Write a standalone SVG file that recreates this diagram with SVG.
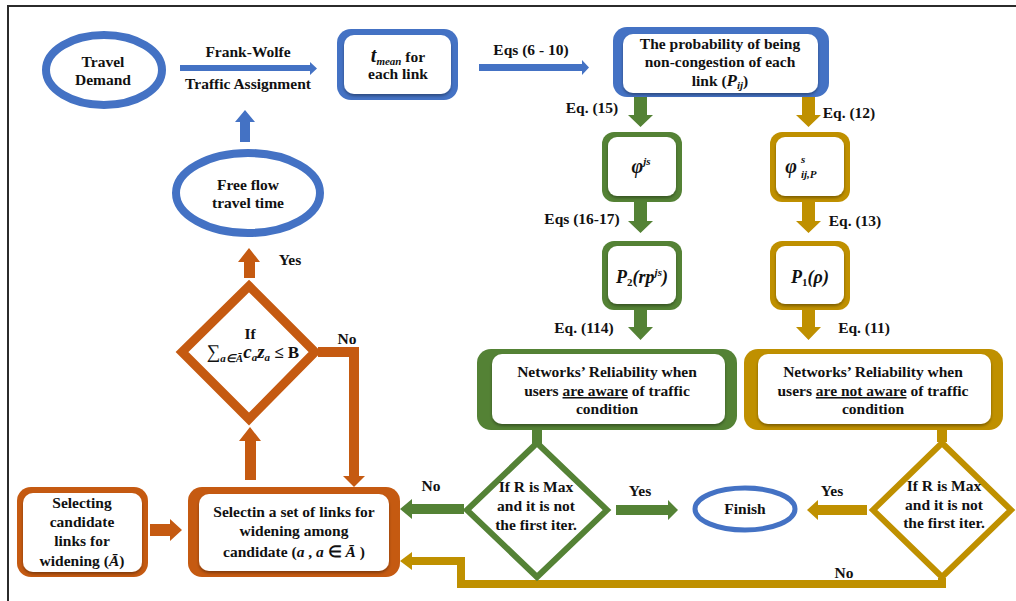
<svg xmlns="http://www.w3.org/2000/svg" width="1016" height="601" viewBox="0 0 1016 601" font-family="'Liberation Serif', 'Times New Roman', serif">
<style>
text{font-family:"Liberation Serif","Times New Roman",serif;font-weight:bold;font-size:15.5px;fill:#111;text-anchor:middle}
.m{font-style:italic;font-size:17px}
.s{font-size:11px}
.blue{fill:#4472C4}.green{fill:#548235}.gold{fill:#BF9000}.orange{fill:#C55A11}
.in{fill:#fff}
.ell{fill:#fff;stroke:#4472C4}
.dia{fill:#fff;stroke-linejoin:miter}
</style>
<defs>
<filter id="sh" x="-10%" y="-10%" width="120%" height="130%">
<feDropShadow dx="0" dy="2" stdDeviation="1.5" flood-color="#000" flood-opacity="0.35"/>
</filter>
</defs>
<rect width="1016" height="601" fill="#fff"/>
<path d="M8 601V6H1016" fill="none" stroke="#2b2b2b" stroke-width="2"/>

<g id="connectors">
<polygon class="blue" points="180,65 310,65 310,62 317,68.5 310,75 310,71 180,71"/>
<polygon class="blue" points="479,64 582,64 582,60 589,67.5 582,75 582,71 479,71"/>
<polygon class="blue" points="240,142 240,122 235,122 245,110 255,122 250,122 250,142"/>
<polygon class="green" points="634,97 647,97 647,115 653,115 640.5,127 628,115 634,115"/>
<polygon class="green" points="634,202 647,202 647,221 653,221 640.5,233 628,221 634,221"/>
<polygon class="green" points="634,310 647,310 647,327 653,327 640.5,340 628,327 634,327"/>
<polygon class="gold" points="802,97 815,97 815,115 821,115 808.5,127 796,115 802,115"/>
<polygon class="gold" points="802,202 815,202 815,221 821,221 808.5,233 796,221 802,221"/>
<polygon class="gold" points="802,310 815,310 815,327 821,327 808.5,340 796,327 802,327"/>
<rect class="green" x="532" y="426" width="10" height="18"/>
<rect class="gold" x="937" y="426" width="10" height="16"/>
<polygon class="green" points="616,505 668,505 668,500 678,510 668,520 668,515 616,515"/>
<polygon class="green" points="464,504 412,504 412,499 400,509 412,519 412,514 464,514"/>
<polygon class="gold" points="867,505 818,505 818,500 807,510 818,520 818,515 867,515"/>
<polyline points="942,578 942,584 461,584 461,561 410,561" fill="none" stroke="#BF9000" stroke-width="8"/>
<polygon class="gold" points="412,552 400,561 412,570"/>
<polygon class="orange" points="244,278 244,262 238,262 249,248 260,262 255,262 255,278"/>
<polygon class="orange" points="245,480 245,441 239,441 250,427 261,441 256,441 256,480"/>
<polyline points="318,352 354,352 354,478" fill="none" stroke="#C55A11" stroke-width="10"/>
<polygon class="orange" points="343,476 365,476 354,487"/>
<polygon class="orange" points="150,524 170,524 170,519 182,530 170,541 170,536 150,536"/>
</g>

<g id="labels">
<text x="248" y="57">Frank-Wolfe</text>
<text x="248" y="89">Traffic Assignment</text>
<text x="531" y="55">Eqs (6 - 10)</text>
<text x="592" y="113">Eq. (15)</text>
<text x="849" y="118">Eq. (12)</text>
<text x="582" y="224">Eqs (16-17)</text>
<text x="855" y="226">Eq. (13)</text>
<text x="584" y="333">Eq. (114)</text>
<text x="864" y="333">Eq. (11)</text>
<text x="290" y="265">Yes</text>
<text x="347" y="344">No</text>
<text x="431" y="491">No</text>
<text x="640" y="496">Yes</text>
<text x="832" y="496">Yes</text>
<text x="844" y="578">No</text>
</g>

<g id="travel-demand">
<ellipse class="ell" cx="104" cy="70" rx="58" ry="35" stroke-width="8"/>
<text x="103" y="67">Travel</text>
<text x="103" y="85">Demand</text>
</g>

<g id="free-flow">
<ellipse class="ell" cx="248" cy="193" rx="72" ry="40" stroke-width="8"/>
<text x="248" y="190">Free flow</text>
<text x="248" y="208">travel time</text>
</g>

<g id="tmean">
<rect class="blue" x="337" y="29" width="121" height="71" rx="14"/>
<rect class="in" x="344" y="35" width="107" height="59" rx="10" filter="url(#sh)"/>
<text x="398" y="62"><tspan class="m" style="font-size:20px">t</tspan><tspan class="m s" dy="3">mean</tspan><tspan dy="-3"> for</tspan></text>
<text x="398" y="79">each link</text>
</g>

<g id="probability">
<rect class="blue" x="613" y="27" width="216" height="70" rx="14"/>
<rect class="in" x="623" y="34" width="195" height="59" rx="10" filter="url(#sh)"/>
<text x="720" y="49">The probability of being</text>
<text x="720" y="67">non-congestion of each</text>
<text x="720" y="86">link (<tspan class="m">P</tspan><tspan class="m s" dy="3">ij</tspan><tspan dy="-3">)</tspan></text>
</g>

<g id="phi-js">
<rect class="green" x="602" y="132" width="80" height="70" rx="12"/>
<rect class="in" x="608" y="137" width="68" height="59" rx="9" filter="url(#sh)"/>
<text x="641" y="173"><tspan class="m" style="font-size:20px">φ</tspan><tspan class="m s" dy="-8">js</tspan></text>
</g>

<g id="phi-ijp">
<rect class="gold" x="770" y="132" width="80" height="70" rx="12"/>
<rect class="in" x="776" y="137" width="68" height="59" rx="9" filter="url(#sh)"/>
<text x="791" y="173" class="m" style="font-size:20px">φ</text>
<text x="801" y="163" class="m s" style="text-anchor:start">s</text>
<text x="801" y="178" class="m s" style="text-anchor:start">ij,P</text>
</g>

<g id="p2">
<rect class="green" x="602" y="241" width="80" height="69" rx="12"/>
<rect class="in" x="608" y="246" width="68" height="58" rx="9" filter="url(#sh)"/>
<text x="642" y="283"><tspan class="m" style="font-size:18px">P</tspan><tspan class="s" dy="3">2</tspan><tspan class="m" style="font-size:18px" dy="-3">(rp</tspan><tspan class="m s" dy="-7">js</tspan><tspan class="m" style="font-size:18px" dy="7">)</tspan></text>
</g>

<g id="p1">
<rect class="gold" x="770" y="241" width="80" height="69" rx="12"/>
<rect class="in" x="776" y="246" width="68" height="58" rx="9" filter="url(#sh)"/>
<text x="810" y="283"><tspan class="m" style="font-size:18px">P</tspan><tspan class="s" dy="3">1</tspan><tspan class="m" style="font-size:18px" dy="-3">(ρ)</tspan></text>
</g>

<g id="reliability-aware">
<rect class="green" x="477" y="349" width="260" height="81" rx="14"/>
<rect class="in" x="492" y="354" width="233" height="70" rx="10" filter="url(#sh)"/>
<text x="607" y="377">Networks’ Reliability when</text>
<text x="607" y="396">users <tspan text-decoration="underline">are aware</tspan> of traffic</text>
<text x="607" y="414">condition</text>
</g>

<g id="reliability-not-aware">
<rect class="gold" x="744" y="349" width="259" height="81" rx="14"/>
<rect class="in" x="758" y="354" width="233" height="70" rx="10" filter="url(#sh)"/>
<text x="873" y="377">Networks’ Reliability when</text>
<text x="873" y="396">users <tspan text-decoration="underline">are not aware</tspan> of traffic</text>
<text x="873" y="414">condition</text>
</g>

<g id="decision-green">
<polygon class="dia" points="537,443 607,510 537,577 467,510" stroke="#548235" stroke-width="6"/>
<text x="536" y="492">If R is Max</text>
<text x="536" y="511">and it is not</text>
<text x="536" y="530">the first iter.</text>
</g>

<g id="finish">
<ellipse class="ell" cx="745" cy="509" rx="50" ry="21" stroke-width="5"/>
<text x="745" y="514">Finish</text>
</g>

<g id="decision-gold">
<polygon class="dia" points="942,443 1011,510 942,577 873,510" stroke="#BF9000" stroke-width="6"/>
<text x="944" y="491">If R is Max</text>
<text x="944" y="510">and it is not</text>
<text x="944" y="528">the first iter.</text>
</g>

<g id="decision-budget">
<polygon class="dia" points="249,286 315,352 249,419 182,352" stroke="#C55A11" stroke-width="9"/>
<text x="250" y="339">If</text>
<text x="253" y="358"><tspan class="m" style="font-size:19px;font-weight:normal">∑</tspan><tspan class="m s" dy="4">a∈Ā</tspan><tspan class="m" style="font-size:19px" dy="-4">c</tspan><tspan class="m s" dy="3">a</tspan><tspan class="m" style="font-size:19px" dy="-3">z</tspan><tspan class="m s" dy="3">a</tspan><tspan style="font-size:17px" dy="-3"> ≤ B</tspan></text>
</g>

<g id="selecting-candidate">
<rect class="orange" x="17" y="487" width="131" height="90" rx="14"/>
<rect class="in" x="23" y="493" width="119" height="79" rx="10" filter="url(#sh)"/>
<text x="82" y="508">Selecting</text>
<text x="82" y="527">candidate</text>
<text x="82" y="546">links for</text>
<text x="82" y="566">widening (<tspan class="m" style="font-size:15.5px">Ā</tspan>)</text>
</g>

<g id="selecting-set">
<rect class="orange" x="188" y="487" width="212" height="90" rx="14"/>
<rect class="in" x="199" y="494" width="190" height="77" rx="10" filter="url(#sh)"/>
<text x="294" y="517">Selectin a set of links for</text>
<text x="294" y="536">widening among</text>
<text x="294" y="557">candidate (<tspan class="m" style="font-size:15.5px">a</tspan> , <tspan class="m" style="font-size:15.5px">a</tspan> ∈ <tspan class="m" style="font-size:15.5px">Ā</tspan> )</text>
</g>
</svg>
